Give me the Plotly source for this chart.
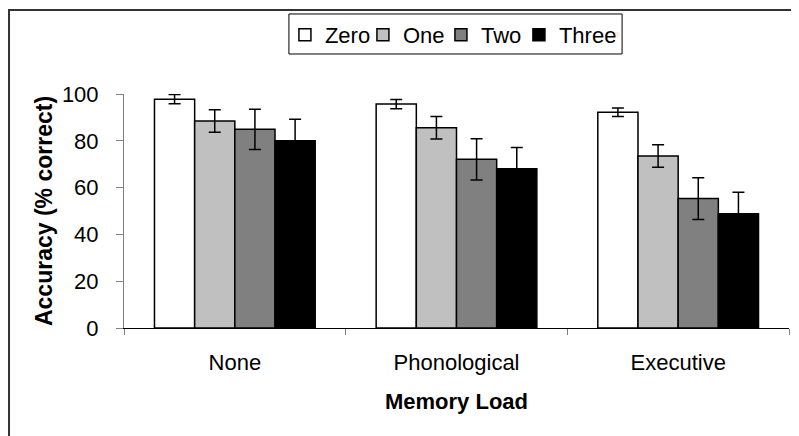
import plotly.graph_objects as go

categories = ["None", "Phonological", "Executive"]
series_names = ["Zero", "One", "Two", "Three"]
zero_vals = [97.8, 95.7, 92.2]
one_vals = [88.5, 85.6, 73.5]
two_vals = [84.9, 72.1, 55.3]
three_vals = [80.0, 68.1, 48.8]
zero_err = [2.0, 2.0, 1.8]
one_err = [4.8, 4.8, 4.8]
two_err = [8.6, 8.8, 8.9]
three_err = [9.2, 9.0, 9.2]
colors = ["#ffffff", "#c0c0c0", "#808080", "#000000"]

values = [zero_vals, one_vals, two_vals, three_vals]
errors = [zero_err, one_err, two_err, three_err]

FONT = "Liberation Sans, Arial, sans-serif"

fig = go.Figure()
for name, vals, errs, col in zip(series_names, values, errors, colors):
    fig.add_trace(go.Bar(
        name=name, x=categories, y=vals,
        marker=dict(color=col, line=dict(color="black", width=1.5)),
        error_y=dict(type="data", array=errs, visible=True,
                     color="black", thickness=1.5, width=6),
    ))
# invisible spacer entry so the last legend label is not clipped
fig.add_trace(go.Scatter(x=[None], y=[None], mode="markers", name="\u00a0",
                         marker=dict(opacity=0), hoverinfo="skip"))

fig.update_layout(
    width=799, height=436,
    margin=dict(l=116, r=18, t=86, b=116, autoexpand=False),
    paper_bgcolor="white", plot_bgcolor="white",
    barmode="group", bargap=0.275, bargroupgap=0,
    font=dict(family=FONT, size=22, color="black"),
    showlegend=True,
    legend=dict(orientation="h", x=0.242, xanchor="left", y=1.342, yanchor="top",
                borderwidth=0, bgcolor="rgba(0,0,0,0)",
                font=dict(size=22), itemwidth=30, traceorder="normal",
                entrywidth=33, entrywidthmode="pixels"),
    xaxis=dict(
        automargin=False,
        showline=True, linecolor="black", linewidth=1,
        ticks="outside", tickson="boundaries", ticklen=6, tickcolor="#808080",
        tickfont=dict(size=22), showgrid=False, ticklabelstandoff=15,
        title=dict(text="<b>Memory Load</b>", font=dict(size=22), standoff=19),
    ),
    yaxis=dict(
        automargin=False,
        range=[0, 100], dtick=20, showline=True, linecolor="#808080", linewidth=1,
        ticks="outside", ticklen=7, tickcolor="#808080",
        tickfont=dict(size=22), showgrid=False, zeroline=False, ticklabelstandoff=13,
        title=dict(text="<b>Accuracy (% correct)</b>", font=dict(size=23), standoff=2),
    ),
    shapes=[
        dict(type="rect", xref="paper", yref="paper",
             x0=-0.1729, x1=1.1, y0=-0.6, y1=1.359,
             line=dict(color="#333333", width=2), layer="below"),
        dict(type="rect", xref="paper", yref="paper",
             x0=0.248, x1=0.749, y0=1.171, y1=1.342,
             line=dict(color="black", width=1), layer="above"),
    ],
)

fig.write_html("out.html")
